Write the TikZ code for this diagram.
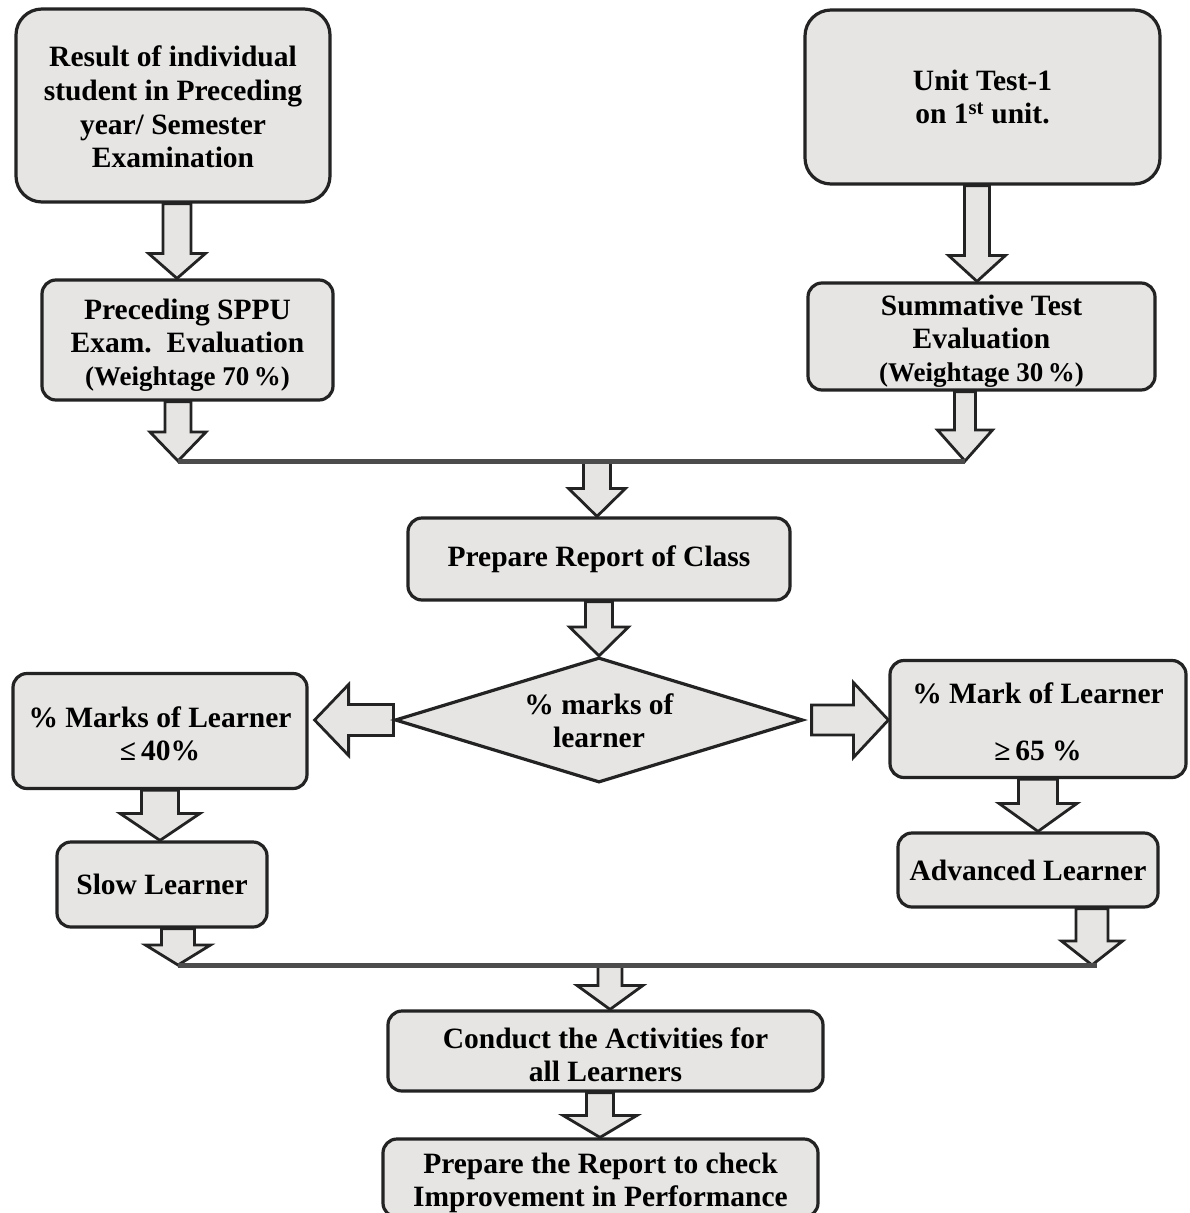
\documentclass[tikz,border=0pt]{standalone}
\usepackage{fontspec}
\setmainfont{Liberation Serif}
\usetikzlibrary{calc,shapes.geometric}
\pgfdeclarelayer{bg}
\pgfsetlayers{bg,main}
\definecolor{boxfill}{RGB}{230,229,227}
\definecolor{edge}{RGB}{35,35,35}
\tikzset{
  box/.style={draw=edge, line width=3.2pt, fill=boxfill, rounded corners=14pt,
    align=center, inner sep=0pt, font=\fontsize{29.5}{33}\selectfont\bfseries},
  lbl/.style={align=center, inner sep=0pt, font=\fontsize{29.5}{33}\selectfont\bfseries},
  blk/.style={draw=edge, line width=2.8pt, fill=boxfill, line join=miter},
  merge/.style={draw=black!70, line width=5pt}
}
\newcommand\wtfont{\fontsize{27}{31}\selectfont}
% strut that lowers a node's text by #1/2 pt
\newcommand\dn[1]{\rule{0pt}{\dimexpr 21pt+#1pt\relax}}
% down block arrow: start, tip, shaft half, head half, head length
\newcommand\dnarrow[5]{\path[blk] let \p1=#1, \p2=#2 in
  (\x1-#3pt,\y1) -- (\x1-#3pt,\y2+#5pt) -- (\x1-#4pt,\y2+#5pt) -- (\x1,\y2)
  -- (\x1+#4pt,\y2+#5pt) -- (\x1+#3pt,\y2+#5pt) -- (\x1+#3pt,\y1) -- cycle;}
% left block arrow
\newcommand\lfarrow[5]{\path[blk] let \p1=#1, \p2=#2 in
  (\x1,\y1+#3pt) -- (\x2+#5pt,\y1+#3pt) -- (\x2+#5pt,\y1+#4pt) -- (\x2,\y1)
  -- (\x2+#5pt,\y1-#4pt) -- (\x2+#5pt,\y1-#3pt) -- (\x1,\y1-#3pt) -- cycle;}
% right block arrow
\newcommand\rtarrow[5]{\path[blk] let \p1=#1, \p2=#2 in
  (\x1,\y1+#3pt) -- (\x2-#5pt,\y1+#3pt) -- (\x2-#5pt,\y1+#4pt) -- (\x2,\y1)
  -- (\x2-#5pt,\y1-#4pt) -- (\x2-#5pt,\y1-#3pt) -- (\x1,\y1-#3pt) -- cycle;}
\begin{document}
\begin{tikzpicture}[x=1pt,y=-1pt]
\useasboundingbox (0,0) rectangle (1189,1213);

\node[box, rounded corners=26pt, minimum width=314, minimum height=193,
  font=\fontsize{29.5}{33.7}\selectfont\bfseries] (A) at (173,105.5)
  {\dn{3}Result of individual\\student in Preceding\\year/ Semester\\Examination};
\node[box, minimum width=291, minimum height=120] (B) at (187.5,340)
  {\dn{10}Preceding SPPU\\Exam.\ \ Evaluation\\{\wtfont(Weightage 70\,\%)}};
\node[box, rounded corners=26pt, minimum width=355, minimum height=174] (C) at (982.5,97)
  {Unit Test-1\\on 1\textsuperscript{st} unit.};
\node[box, minimum width=347, minimum height=107] (D) at (981.5,336.5)
  {\dn{9}Summative Test\\Evaluation\\{\wtfont(Weightage 30\,\%)}};
\node[box, minimum width=382, minimum height=82] (E) at (599,559) {Prepare Report of Class};
\node[draw=edge, line width=3.2pt, fill=boxfill, shape=diamond, inner sep=0pt,
  minimum width=408, minimum height=125] (dia) at (599,720) {};
\node[lbl] (diatext) at (dia.center) {\dn{2}\% marks of\\learner};
\node[box, minimum width=294, minimum height=115] (F) at (160,731)
  {\dn{6}\% Marks of Learner\\≤\,40\%};
\node[box, minimum width=296, minimum height=117] (H) at (1038,719)
  {\dn{5}\% Mark of Learner\\[24pt]≥\,65 \%};
\node[box, minimum width=210, minimum height=85] (G) at (162,884.5) {Slow Learner};
\node[box, minimum width=260, minimum height=74] (I) at (1028,870) {Advanced Learner};
\node[box, minimum width=435, minimum height=80] (J) at (605.5,1051)
  {\dn{7}Conduct the Activities for\\all Learners};
\node[box, minimum width=435, minimum height=78] (K) at (600.5,1178)
  {\dn{9}Prepare the Report to check\\Improvement in Performance};

\coordinate (m1l) at (178,461);
\coordinate (m1r) at (965,461);
\coordinate (m2l) at (178,965);
\coordinate (m2r) at (1097,965);

\begin{pgfonlayer}{bg}
\fill[white] (0,0) rectangle (1189,1213);
\dnarrow{(177,0 |- A.south)}{(177,0 |- B.north)}{14}{28.5}{25}
\dnarrow{(m1l |- B.south)}{(m1l)}{13}{28}{29}
\dnarrow{(977,0 |- C.south)}{(977,0 |- D.north)}{12.5}{28.5}{26}
\dnarrow{(m1r |- D.south)}{(m1r)}{10.5}{27.5}{31}
\dnarrow{(597,0 |- m1l)}{(597,0 |- E.north)}{13.5}{28.5}{28}
\dnarrow{(dia.north |- E.south)}{(dia.north)}{13.5}{29.5}{29}
\lfarrow{(dia.west)}{($(F.east |- dia.west)+(6,0)$)}{15.5}{35.5}{34}
\rtarrow{($(dia.east)+(7,0)$)}{(H.west |- dia.east)}{15}{37.5}{35}
\dnarrow{(F.south)}{(F.south |- G.north)}{18.5}{40}{27}
\dnarrow{(m2l |- G.south)}{(m2l)}{16.5}{32.5}{20}
\dnarrow{(H.south)}{(H.south |- I.north)}{19.5}{39}{28}
\dnarrow{(1092,0 |- I.south)}{(1092,0 |- m2r)}{16}{30.5}{24}
\dnarrow{(610,0 |- m2l)}{(610,0 |- J.north)}{12}{33}{24}
\dnarrow{(600,0 |- J.south)}{(600,0 |- K.north)}{13.5}{37}{22}
\end{pgfonlayer}

\draw[merge] (m1l) -- (m1r);
\draw[merge] (m2l) -- (m2r);
\end{tikzpicture}
\end{document}
